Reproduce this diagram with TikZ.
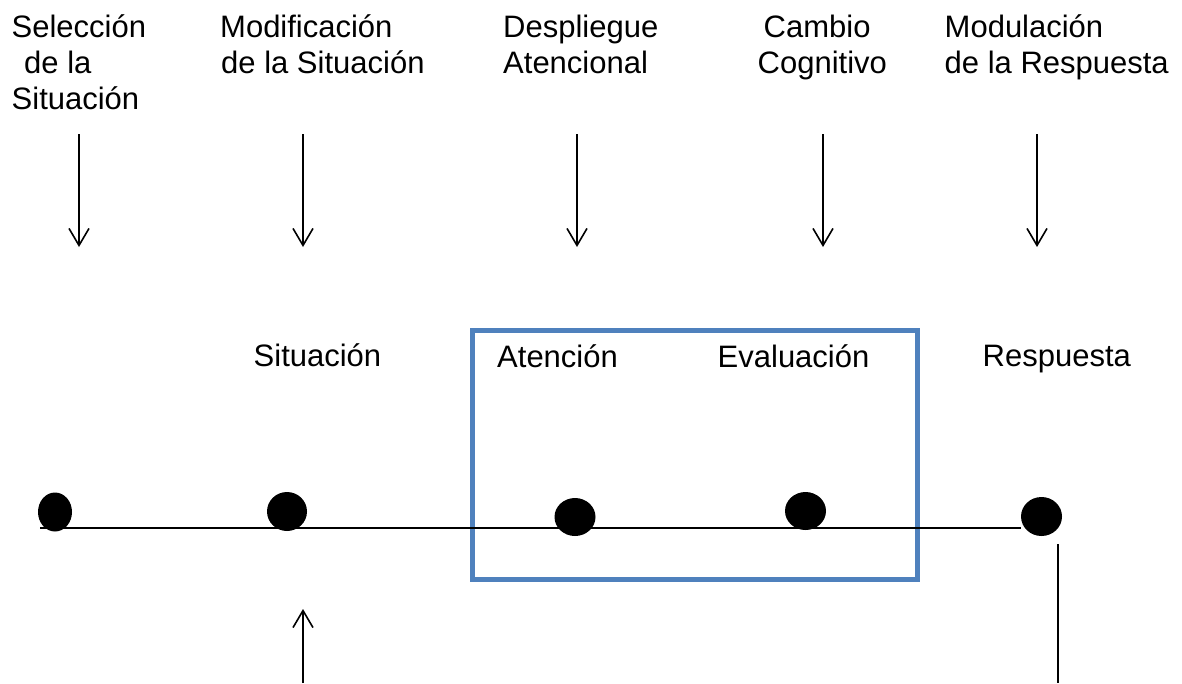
\documentclass[tikz,border=0pt]{standalone}
\usepackage{fontspec}
\setmainfont{Liberation Sans}
\usetikzlibrary{arrows.meta,shapes.geometric}
\definecolor{boxblue}{RGB}{79,129,189}
\begin{document}
\begin{tikzpicture}[x=1pt,y=-1pt,
  lbl/.style={inner sep=0pt, anchor=base west, font=\fontsize{31}{36}\selectfont},
  dotnode/.style={ellipse, fill=black, draw=none, inner sep=0pt},
  dnarrow/.style={line width=1.6pt, -{Straight Barb[length=17pt,width=20pt,line width=1.6pt]}},
  plainline/.style={line width=1.7pt},
  bluebox/.style={draw=boxblue, line width=4.5pt, inner sep=0pt, minimum width=445pt, minimum height=249pt}]
\useasboundingbox (0,0) rectangle (1182,683);

% top labels
\node[lbl] (t1) at (11.5,37) {\begin{tabular}[t]{@{}l@{}}Selección\\\hspace{12.5pt}de la\\Situación\end{tabular}};
\node[lbl] (t2) at (220,37) {\begin{tabular}[t]{@{}l@{}}Modificación\\\hspace{1pt}de la Situación\end{tabular}};
\node[lbl] (t3) at (503,37) {\begin{tabular}[t]{@{}l@{}}Despliegue\\Atencional\end{tabular}};
\node[lbl] (t4) at (757.5,37) {\begin{tabular}[t]{@{}l@{}}\hspace{6pt}Cambio\\Cognitivo\end{tabular}};
\node[lbl] (t5) at (944.5,37) {\begin{tabular}[t]{@{}l@{}}Modulación\\de la Respuesta\end{tabular}};

% down arrows
\coordinate (a1s) at (79,134);  \coordinate (a1e) at (79,247);
\coordinate (a2s) at (303,134); \coordinate (a2e) at (303,247);
\coordinate (a3s) at (577,134); \coordinate (a3e) at (577,247);
\coordinate (a4s) at (823,134); \coordinate (a4e) at (823,247);
\coordinate (a5s) at (1037,134); \coordinate (a5e) at (1037,247);
\foreach \i in {1,...,5} \draw[dnarrow] (a\i s) -- (a\i e);

% box
\node[bluebox] (box) at (695,455) {};

% middle labels
\node[lbl] (m1) at (253.5,366) {Situación};
\node[lbl] (m2) at (497,367) {Atención};
\node[lbl] (m3) at (717.5,367) {Evaluación};
\node[lbl] (m4) at (982.5,366) {Respuesta};

% dots
\node[dotnode, minimum width=34pt, minimum height=39pt] (d1) at (55,512) {};
\node[dotnode, minimum width=40pt, minimum height=39pt] (d2) at (287,511.5) {};
\node[dotnode, minimum width=41pt, minimum height=38pt] (d3) at (575,517) {};
\node[dotnode, minimum width=41pt, minimum height=38pt] (d4) at (805.5,511) {};
\node[dotnode, minimum width=41pt, minimum height=39pt] (d5) at (1041.5,516.5) {};

% timeline
\coordinate (lstart) at (40,528);
\begin{pgfonlayer}{main}
\end{pgfonlayer}
\draw[plainline] (lstart) -- (lstart -| d5.west);

% bottom connectors
\coordinate (u1) at (303,683); \coordinate (u2) at (303,609);
\draw[dnarrow] (u1) -- (u2);
\coordinate (r1) at (1058,544); \coordinate (r2) at (1058,683);
\draw[plainline] (r1) -- (r2);
\end{tikzpicture}
\end{document}
